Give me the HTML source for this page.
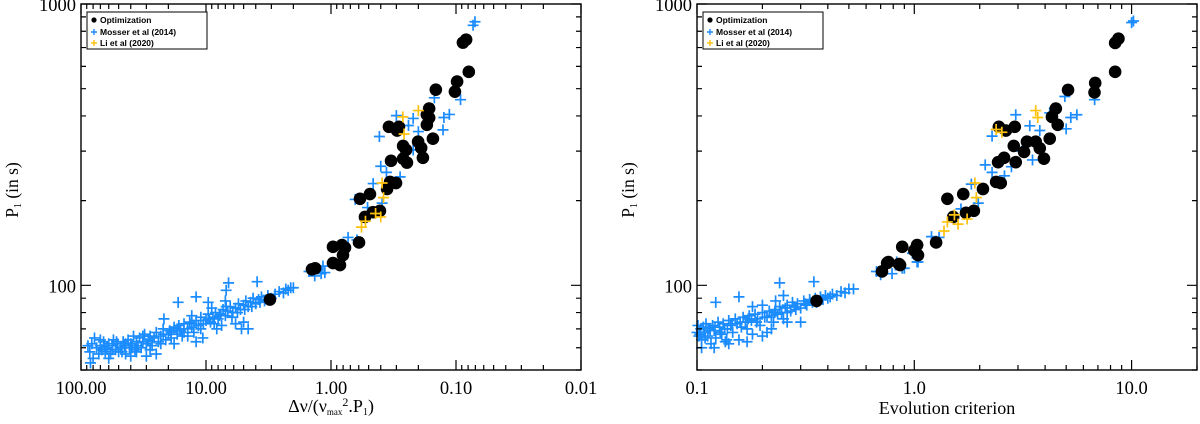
<!DOCTYPE html>
<html><head><meta charset="utf-8"><style>
html,body{margin:0;padding:0;background:#fff;width:1200px;height:424px;overflow:hidden}
svg{display:block}
text{font-family:"Liberation Serif",serif;fill:#000}
.leg{font-family:"Liberation Sans",sans-serif;font-weight:bold;font-size:8.5px}
</style></head><body>
<svg id="chart" width="1200" height="424" viewBox="0 0 1200 424" xmlns="http://www.w3.org/2000/svg"></svg>
<script>
// ---- Left panel data: [x = dnu/(numax^2 P1), P1 in s]
const leftBlack = [[0.083,747],[0.088,729],[0.079,574],[0.098,530],[0.102,488],[0.145,496],[0.164,425],[0.171,404],[0.164,394],[0.171,372],[0.153,332],[0.344,366],[0.296,355],[0.286,366],[0.265,313],[0.251,303],[0.201,324],[0.19,308],[0.184,284],[0.265,282],[0.247,273],[0.331,277],[0.337,233],[0.302,231],[0.356,220],[0.488,211],[0.586,203],[0.406,184],[0.461,182],[0.535,175],[0.597,142],[0.964,137],[0.817,139],[0.773,136],[0.802,128],[0.964,120],[0.848,118],[1.42,114],[1.34,115],[3.08,89]];
const leftBlue = [[85,58],[82,62],[80,55],[78,65],[75,60],[72,57],[70,61],[68,59],[66,63],[64,58],[62,60],[60,62],[58,57],[56,61],[55,64],[53,59],[51,62],[50,58],[48,60],[46,63],[45,61],[44,57],[42,64],[41,60],[40,62],[38,66],[37,59],[36,63],[35,61],[34,65],[33,60],[32,63],[31,67],[30,62],[29,64],[28,66],[27,61],[26,65],[25,68],[24,63],[23,66],[22,70],[21,64],[20,67],[19.5,69],[19,65],[18,71],[17,67],[16.5,72],[16,69],[15.5,66],[15,73],[14,70],[13.5,74],[13,71],[12.5,68],[12,75],[11.5,72],[11,77],[10.5,73],[10,75],[9.6,79],[9.2,74],[8.8,77],[8.4,80],[8,76],[7.6,79],[7.3,82],[7,78],[6.7,81],[6.4,84],[6.1,80],[5.8,83],[5.5,86],[5.3,82],[5,85],[4.8,88],[4.6,84],[4.4,87],[4.2,90],[4,86],[3.8,89],[3.6,91],[3.4,88],[3.2,92],[3,90],[2.8,93],[2.6,95],[2.4,94],[2.3,97],[2.2,96],[2.1,98],
[16.7,87],[12,91],[6.6,102],[3.9,103],[21.7,76],[5,74],[6.9,96],[9.6,87],[10.6,65],[14,66],[7.5,72],[4.6,70],[5.2,70],[30,56],[25,57],[40,56],[60,55],[84,53],[5.8,73],[8.2,70],[12,63],[18,62],[13,78],[9,83],[7,88],
[65,61],[52,63],[47,58],[39,60],[32,66],[27,63],[23,62],[19,68],[17,70],[15,68],[13,73],[11,70],[9.4,76],[8.6,73],[7.8,78],[6.9,84],[6.2,77],[5.6,80],[4.9,82],[4.3,84],[3.7,87],[22,67],[28,59],[36,58],[44,62],[56,59],[70,64],[88,61],
[1.5,112],[1.35,108],[1.3,115],[1.2,110],[1.16,117],[1.12,111],[2.0,98],[0.73,148],[0.62,145],[0.64,202],[0.39,196],[0.51,189],[0.46,230],[0.4,265],[0.36,252],[0.28,243],[0.41,338],[0.3,401],[0.22,392],[0.24,370],[0.2,352],[0.127,357],[0.22,303],[0.113,405],[0.125,395],[0.149,464],[0.092,457],[0.0705,865],[0.073,840]];
const leftYellow = [[0.2,418],[0.266,397],[0.26,345],[0.39,231],[0.38,205],[0.44,180],[0.57,161],[0.4,175],[0.53,169]];
// ---- Right panel data: [evolution criterion, P1 in s]
const rightBlack = [[8.7,753],[8.4,727],[8.4,574],[6.8,524],[6.75,485],[5.1,495],[4.48,425],[4.3,397],[4.57,372],[4.2,332],[3.95,282],[3.78,307],[3.62,324],[3.3,324],[3.2,298],[2.9,366],[2.64,355],[2.45,366],[2.87,313],[2.93,274],[2.59,284],[2.43,274],[2.38,233],[2.5,231],[2.07,220],[1.68,211],[1.42,203],[1.88,184],[1.73,181],[1.51,175],[1.26,142],[0.88,137],[1.03,139],[1.0,133],[1.04,128],[0.76,121],[0.85,119],[0.71,112],[0.355,88],[0.75,120],[0.86,118]];
const rightBlue = [[0.100,68],[0.101,72],[0.102,66],[0.104,70],[0.105,64],[0.107,71],[0.108,68],[0.11,73],[0.112,66],[0.114,70],[0.116,62],[0.118,72],[0.12,69],[0.122,65],[0.125,74],[0.127,71],[0.13,67],[0.132,73],[0.135,63],[0.138,70],[0.14,75],[0.143,72],[0.146,68],[0.15,76],[0.153,73],[0.156,64],[0.16,71],[0.163,77],[0.167,74],[0.17,70],[0.174,78],[0.178,75],[0.18,67],[0.185,79],[0.19,76],[0.195,72],[0.2,80],[0.205,77],[0.21,68],[0.215,81],[0.22,78],[0.225,74],[0.23,82],[0.235,79],[0.24,84],[0.245,80],[0.25,76],[0.255,83],[0.26,85],[0.27,81],[0.275,87],[0.28,84],[0.29,86],[0.3,83],[0.31,88],[0.32,85],[0.33,89],[0.34,87],[0.35,90],[0.36,88],[0.37,91],[0.38,89],[0.39,92],[0.4,90],[0.42,93],[0.44,92],[0.46,95],[0.48,94],[0.5,97],[0.525,97],
[0.122,87],[0.156,91],[0.24,102],[0.345,103],[0.26,74],[0.137,64],[0.14,62],[0.17,63],[0.2,66],[0.23,88],[0.25,92],[0.2,85],[0.3,74],[0.22,70],[0.18,84],[0.12,60],[0.105,60],
[0.103,67],[0.109,65],[0.115,69],[0.121,71],[0.128,68],[0.134,70],[0.145,73],[0.158,74],[0.172,76],[0.188,74],[0.21,77],[0.228,80],[0.26,80],[0.285,82],[0.315,86],[0.355,87],[0.41,91],
[10,859],[10.2,870],[4.93,469],[6.76,457],[2.93,404],[3.4,369],[3.78,355],[5.0,360],[5.6,404],[5.25,395],[4.2,410],[2.28,339],[3.6,324],[3.13,300],[3.5,279],[2.12,268],[2.28,252],[2.6,245],[2.8,264],[1.83,229],[2.4,233],[1.97,196],[1.64,187],[1.42,203],[1.75,181],[1.2,149],[1.3,148],[1.04,139],[0.98,130],[1.03,121],[0.82,118],[0.88,115],[0.79,110],[0.71,112],[0.67,112],[0.7,109],[0.83,121],[0.9,115],[1.04,121]];
const rightYellow = [[3.62,418],[3.7,395],[2.38,358],[2.53,350],[1.9,231],[1.93,205],[1.53,178],[1.75,172],[1.59,165],[1.42,168],[1.37,156]];
const leftXTicks = ["100.00","10.00","1.00","0.10","0.01"];
const rightXTicks = ["0.1","1.0","10.0"];
const yTicks = ["100","1000"];

const NS="http://www.w3.org/2000/svg";
const svg=document.getElementById('chart');
function mk(tag,attrs,parent){const e=document.createElementNS(NS,tag);for(const k in attrs)e.setAttribute(k,attrs[k]);(parent||svg).appendChild(e);return e;}
const TOP=4,BOT=370,YMIN=50,YMAX=1000;
function yS(v){return BOT-(Math.log10(v)-Math.log10(YMIN))/(Math.log10(YMAX)-Math.log10(YMIN))*(BOT-TOP);}

function panel(name,L,R,xmin,xmax,black,blue,yellow,xticks,xlabelFn){
  const g=mk('g',{});
  
  
  const lmin=Math.log10(xmin),lmax=Math.log10(xmax);
  const xS=v=>L+(Math.log10(v)-lmin)/(lmax-lmin)*(R-L);
  const pts=mk('g',{},g);
  
  
  function plus(d,col,nm){const x=xS(d[0]),y=yS(d[1]);const p=mk('path',{d:`M${x-5.5},${y}H${x+5.5}M${x},${y-5.5}V${y+5.5}`,stroke:col,'stroke-width':1.7},pts);
    
    }
  blue.forEach(d=>plus(d,'#1a8cff','mosser-point'));
  black.forEach(d=>{const c=mk('circle',{cx:xS(d[0]),cy:yS(d[1]),r:6.3,fill:'#000'},pts);
    
    });
  yellow.forEach(d=>plus(d,'#ffc20e','li-point'));
  const fr=mk('rect',{x:L,y:TOP,width:R-L,height:BOT-TOP,fill:'none',stroke:'#000','stroke-width':1.4},g);
  
  
  const lo=Math.min(lmin,lmax),hi=Math.max(lmin,lmax);
  for(let e=Math.floor(lo);e<=Math.ceil(hi);e++){for(let m=1;m<10;m++){const v=m*Math.pow(10,e);const lv=Math.log10(v);if(lv<lo-1e-9||lv>hi+1e-9)continue;const x=xS(v);const len=m==1?10:5;
    mk('path',{d:`M${x},${BOT}v${-len}M${x},${TOP}v${len}`,stroke:'#000','stroke-width':1.2},g);}}
  xticks.forEach(t=>{const v=parseFloat(t);const tx=mk('text',{x:xS(v),y:BOT+24,'font-size':18.5,'text-anchor':'middle'},g);tx.textContent=t;
    
    });
  for(let e=1;e<=3;e++){for(let m=1;m<10;m++){const v=m*Math.pow(10,e);if(v<YMIN||v>YMAX)continue;const y=yS(v);const len=m==1?10:5;
    mk('path',{d:`M${L},${y}h${len}M${R},${y}h${-len}`,stroke:'#000','stroke-width':1.2},g);}}
  yTicks.forEach(t=>{const tx=mk('text',{x:L-5,y:yS(parseFloat(t))+7,'font-size':18.5,'text-anchor':'end'},g);tx.textContent=t;
    
    });
  const yt=mk('text',{transform:`translate(${L-63},${190}) rotate(-90)`,'font-size':17.5,'text-anchor':'middle'},g);
  yt.innerHTML='P<tspan font-size="10" dy="3">1</tspan><tspan dy="-3"> (in s)</tspan>';
  
  
  xlabelFn(g);
  const lg=mk('g',{},g);
  
  
  mk('rect',{x:L+6,y:12,width:120,height:37,fill:'#fff',stroke:'#000','stroke-width':1},lg);
  mk('circle',{cx:L+13,cy:20,r:2.6,fill:'#000'},lg);
  mk('path',{d:`M${L+10},32h6M${L+13},29v6`,stroke:'#1a8cff','stroke-width':1.4},lg);
  mk('path',{d:`M${L+10},43h6M${L+13},40v6`,stroke:'#ffc20e','stroke-width':1.4},lg);
  [['Optimization',23],['Mosser et al (2014)',35],['Li et al (2020)',46]].forEach(a=>{const t=mk('text',{x:L+19,y:a[1],class:'leg'},lg);t.textContent=a[0];
    
    });
}
panel('left-panel',81,581,100,0.01,leftBlack,leftBlue,leftYellow,leftXTicks,g=>{
  const t=mk('text',{x:331,y:412,'font-size':18,'text-anchor':'middle'},g);
  t.innerHTML='Δν/(ν<tspan font-size="9" dy="3">max</tspan><tspan font-size="12" dy="-9">2</tspan><tspan dy="6">.P</tspan><tspan font-size="10" dy="3">1</tspan><tspan dy="-3">)</tspan>';
  
  
});
panel('right-panel',697,1197,0.1,20,rightBlack,rightBlue,rightYellow,rightXTicks,g=>{
  const t=mk('text',{x:947,y:414,'font-size':18,'text-anchor':'middle'},g);t.textContent='Evolution criterion';
  
  
});
</script>
</body></html>
